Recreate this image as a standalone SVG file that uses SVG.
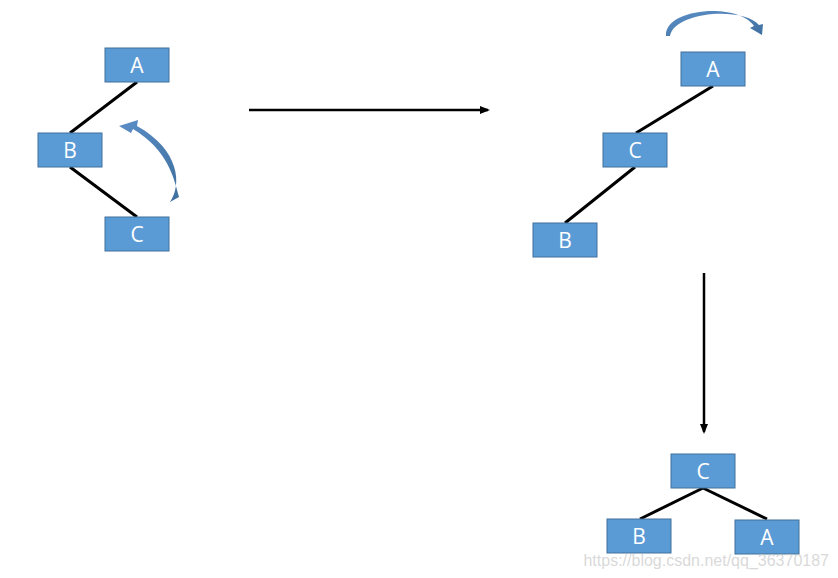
<svg xmlns="http://www.w3.org/2000/svg" width="838" height="578" viewBox="0 0 838 578">
<defs>
<style>
.box{fill:#5B9BD5;stroke:#41719C;stroke-width:1}
.lbl{fill:#FFFFFF;font-family:"Open Sans","Liberation Sans",sans-serif;font-size:21px;text-anchor:middle;dominant-baseline:central}
.edge{stroke:#000;stroke-width:3;fill:none}
.arr{stroke:#000;stroke-width:2.5;fill:none}
.curve{fill:url(#cg)}
</style>
<linearGradient id="cg" x1="0" y1="0" x2="1" y2="1">
<stop offset="0" stop-color="#5B8FC7"/>
<stop offset="1" stop-color="#3F6F9F"/>
</linearGradient>
<marker id="ah" markerWidth="10" markerHeight="8" refX="8" refY="4" orient="auto" markerUnits="userSpaceOnUse">
<path d="M0,0 L10,4 L0,8 Z" fill="#000"/>
</marker>
</defs>
<rect width="838" height="578" fill="#FFFFFF"/>
<g id="connectors">
<line class="edge" x1="137" y1="82" x2="70" y2="133"/>
<line class="edge" x1="70" y1="167" x2="137" y2="217"/>
<line class="edge" x1="713" y1="86" x2="636" y2="133"/>
<line class="edge" x1="635" y1="167" x2="565" y2="223"/>
<line class="edge" x1="703" y1="488" x2="640" y2="519"/>
<line class="edge" x1="703" y1="488" x2="767" y2="519"/>
<line class="arr" x1="249" y1="110" x2="488" y2="110" marker-end="url(#ah)"/>
<line class="arr" x1="704" y1="273" x2="704" y2="432" marker-end="url(#ah)"/>
<path class="curve" d="M170,202 C182,185 180,150 137,126 L138,120 L119,126 L131,133 L133,129 C168,150 174,178 179,197 Z"/>
<path class="curve" d="M666,36 C664,8 738,2 754,26 L750,28 L762,35 L763,24 L759,25 C742,6 674,12 670,36 Z"/>
</g>
<g id="nodeA1"><rect class="box" x="105" y="48" width="64" height="34"/><text class="lbl" x="137" y="65">A</text></g>
<g id="nodeB1"><rect class="box" x="38" y="133" width="64" height="34"/><text class="lbl" x="70" y="150">B</text></g>
<g id="nodeC1"><rect class="box" x="105" y="217" width="64" height="34"/><text class="lbl" x="137" y="234">C</text></g>
<g id="nodeA2"><rect class="box" x="681" y="52" width="64" height="34"/><text class="lbl" x="713" y="69">A</text></g>
<g id="nodeC2"><rect class="box" x="603" y="133" width="64" height="34"/><text class="lbl" x="635" y="150">C</text></g>
<g id="nodeB2"><rect class="box" x="533" y="223" width="64" height="34"/><text class="lbl" x="565" y="240">B</text></g>
<g id="nodeC3"><rect class="box" x="671" y="454" width="64" height="34"/><text class="lbl" x="703" y="471">C</text></g>
<g id="nodeB3"><rect class="box" x="607" y="519" width="64" height="34"/><text class="lbl" x="639" y="536">B</text></g>
<g id="nodeA3"><rect class="box" x="735" y="520" width="64" height="34"/><text class="lbl" x="767" y="537">A</text></g>
<text x="829" y="566" text-anchor="end" font-family="Liberation Sans, Arial, sans-serif" font-size="16" fill="#C8C8C8" fill-opacity="0.7">https://blog.csdn.net/qq_36370187</text>
</svg>
